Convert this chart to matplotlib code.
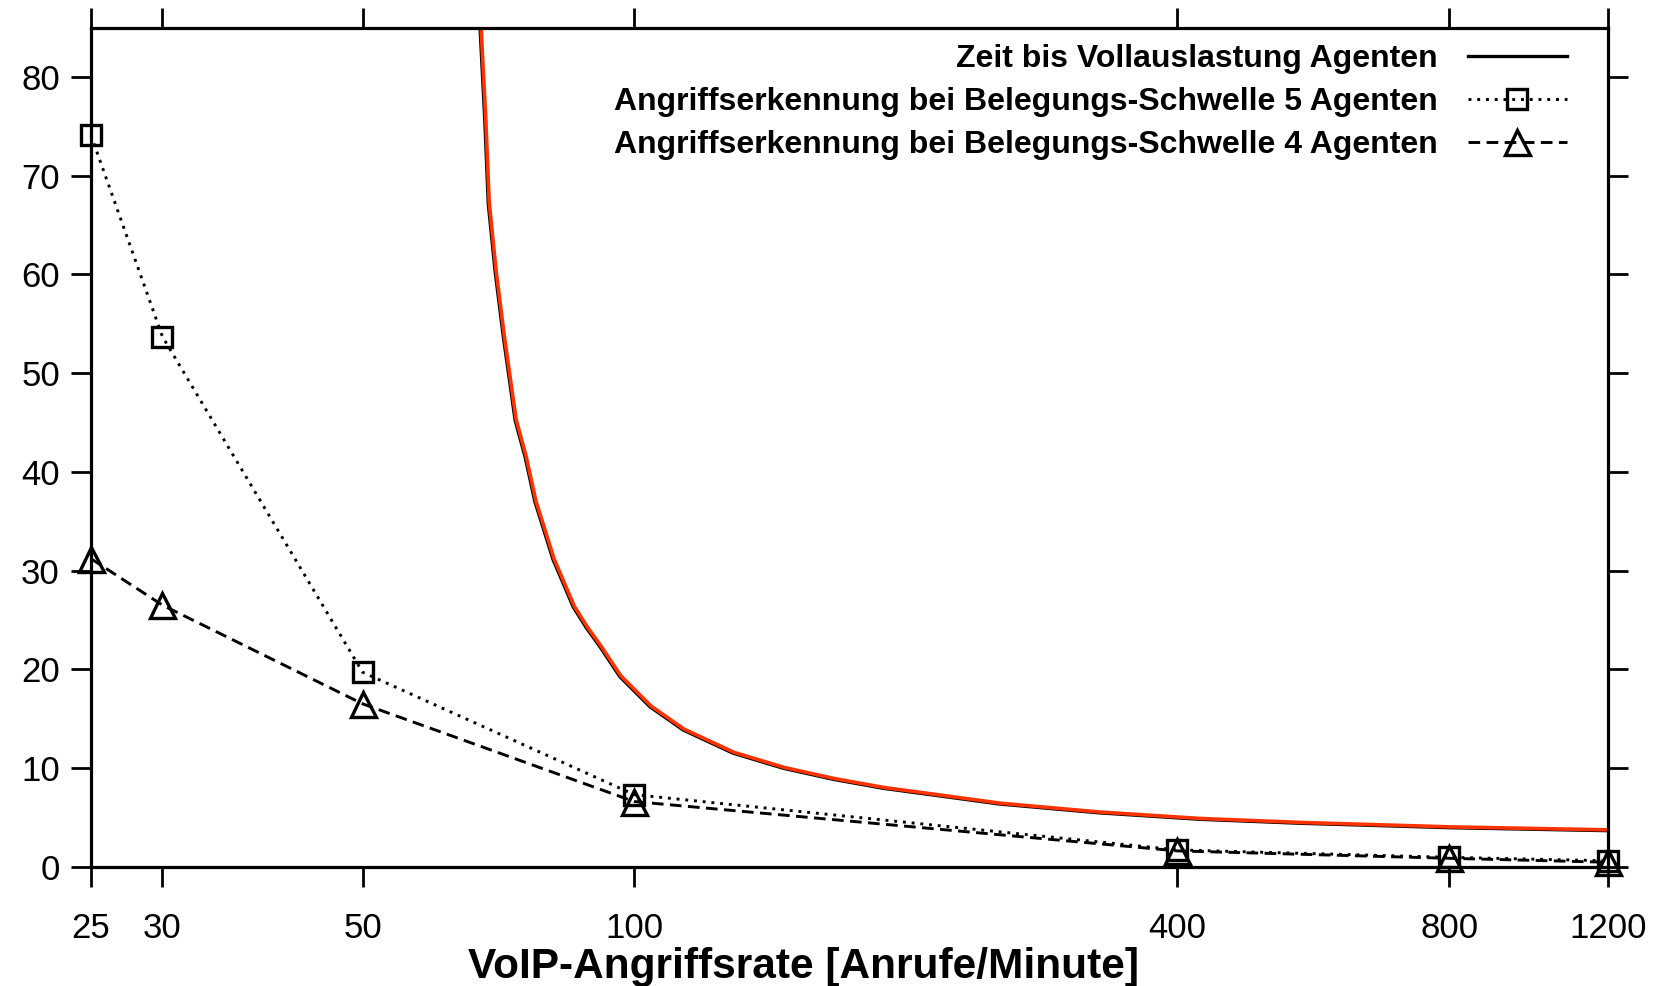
import numpy as np
import matplotlib
matplotlib.use('Agg')
import matplotlib.pyplot as plt
import matplotlib.transforms as mtransforms


# Data
rate = [25, 30, 50, 100, 400, 800, 1200]
detect_5 = [74.1, 53.7, 19.7, 7.3, 1.7, 0.95, 0.6]
detect_4 = [31.2, 26.5, 16.5, 6.6, 1.6, 0.85, 0.45]

full_x = [67.3, 68.3, 68.9, 70.1, 71.6, 73.8, 75.7, 77.6, 81.3, 85.6, 88.5,
          91.6, 96.4, 104.1, 113.3, 128.7, 146.3, 166.2, 188.8, 214.5, 254,
          328, 424, 547, 802, 1200]
full_y = [87.0, 75.6, 67.2, 60.4, 53.7, 45.2, 41.5, 37.0, 31.1, 26.3, 24.2,
          22.3, 19.25, 16.2, 13.85, 11.5, 9.97, 8.85, 7.94, 7.26, 6.35,
          5.45, 4.8, 4.4, 3.95, 3.65]

xticks = [25, 30, 50, 100, 400, 800, 1200]
yticks = [0, 10, 20, 30, 40, 50, 60, 70, 80]

labels = ['Zeit bis Vollauslastung Agenten',
          'Angriffserkennung bei Belegungs-Schwelle 5 Agenten',
          'Angriffserkennung bei Belegungs-Schwelle 4 Agenten']
xlabel = 'VoIP-Angriffsrate [Anrufe/Minute]'


# Plot setting
plt.rcParams['font.family'] = ['Liberation Sans', 'DejaVu Sans']

fig = plt.figure(figsize=(16.57, 9.86), dpi=100)
ax = fig.add_axes([0.0549, 0.121, 0.9155, 0.851])

# full load curve: black line with red line slightly shifted on top
ax.plot(full_x, full_y, color='black', linewidth=2.4, label=labels[0])
shift = mtransforms.offset_copy(ax.transData, fig=fig, x=1.0, y=0.8, units='dots')
ax.plot(full_x, full_y, color='#ff3300', linewidth=2.6, transform=shift)

ax.plot(rate, detect_5, color='black', linestyle=(0, (1, 2.0)), linewidth=2.1,
        marker='s', markersize=15, markerfacecolor='none', markeredgewidth=2.4,
        label=labels[1], clip_on=False, zorder=4)
ax.plot(rate, detect_4, color='black', linestyle=(0, (4.0, 2.2)), linewidth=2.1,
        marker='^', markersize=18, markerfacecolor='none', markeredgewidth=2.4,
        label=labels[2], clip_on=False, zorder=4)

ax.set_xscale('log')
ax.set_xlim(25, 1200)
ax.set_ylim(0, 85)
ax.set_xticks(xticks)
ax.set_xticklabels([str(t) for t in xticks])
ax.xaxis.set_minor_locator(matplotlib.ticker.NullLocator())
ax.set_yticks(yticks)

# tick setting
ax.tick_params(axis='both', which='major', direction='out', length=14.4, width=2.0,
               labelsize=25, top=True, right=True)
ax.tick_params(axis='x', pad=18)
ax.tick_params(axis='y', pad=8)

# frame setting
for side in ['left', 'right', 'top', 'bottom']:
    ax.spines[side].set_linewidth(2.3)

ax.set_xlabel(xlabel, fontsize=30.5, fontweight='bold', va='top')
ax.xaxis.set_label_coords(0.47, -0.096)

ax.legend(loc='upper right', bbox_to_anchor=(0.9813, 0.996), frameon=False,
          markerfirst=False, handlelength=3.1, handletextpad=0.93,
          labelspacing=0.415, borderaxespad=0,
          prop={'weight': 'bold', 'size': 23})

plt.savefig('out.png', dpi=100)
